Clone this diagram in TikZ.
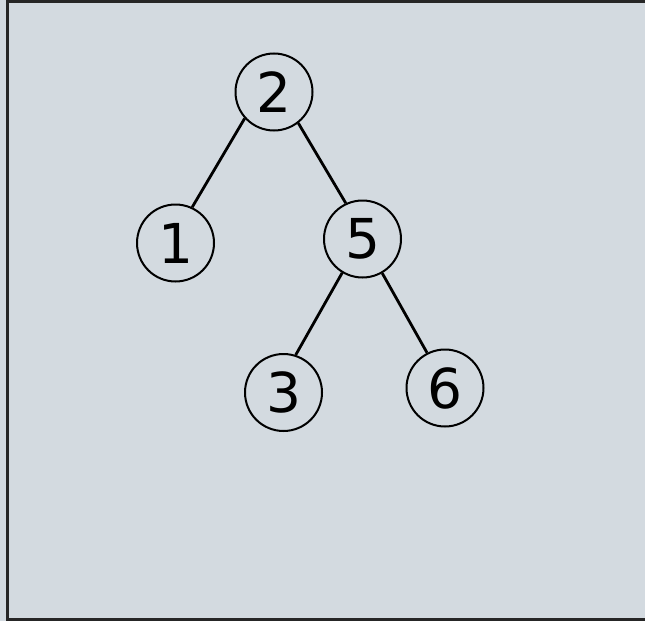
\documentclass[tikz,border=0pt]{standalone}
\usepackage{fontspec}
\setmainfont{DejaVu Sans}
\usepackage{tikz}
\usepackage{xcolor}
\definecolor{bgpanel}{HTML}{D3DAE0}
\tikzset{key/.style={circle,draw,line width=2pt,minimum size=77pt,inner sep=0pt,font=\fontsize{55}{62}\selectfont},
  branch/.style={line width=2.8pt}}
\newcommand{\treekey}[3]{\node[key] (#1) at (#2) {#3};}

\begin{document}
\begin{tikzpicture}[x=1pt,y=-1pt]

    \fill[bgpanel] (0,0) rectangle (645,621);
    \useasboundingbox (0,0) rectangle (645,621);
    \draw[line width=3pt,black!85] (645,1.5) -- (7.5,1.5) -- (7.5,619.5) -- (645,619.5);

    \treekey{k2}{274,92}{2}
    \treekey{k1}{175.5,243}{1}
    \treekey{k5}{362.5,239}{5}
    \treekey{k3}{283.5,392.5}{3}
    \treekey{k6}{445,388}{6}

    \draw[branch] (k2.222) -- (k1.65);
    \draw[branch] (k2.308) -- (k5.115);
    \draw[branch] (k5.239) -- (k3.72);
    \draw[branch] (k5.300) -- (k6.117);
    \end{tikzpicture}
\end{document}
